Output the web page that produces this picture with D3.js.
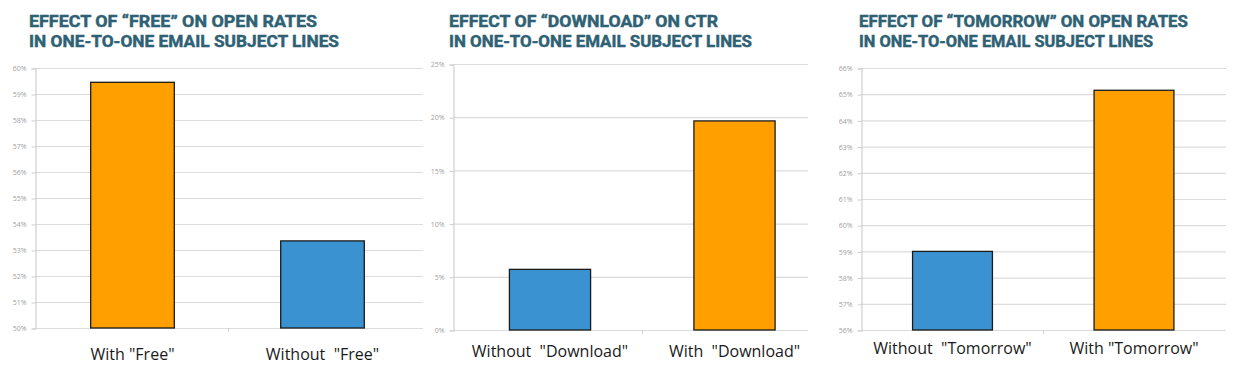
<!DOCTYPE html>
<html>
<head>
<meta charset="utf-8">
<script src="https://cdn.jsdelivr.net/npm/d3@7"></script>
<style>
  html, body { margin: 0; padding: 0; background: #fff; }
  svg { display: block; }
  .title { font-family: "Roboto", "DejaVu Sans", sans-serif; font-weight: 700; fill: #2e6174; stroke: #2e6174; stroke-width: 0.45px; }
  .cat { font-family: "Open Sans", sans-serif; font-size: 16px; fill: #1a1a1a; white-space: pre; }
  .tick text { font-family: "Open Sans", sans-serif; font-size: 7px; fill: #a0a0a0; }
</style>
</head>
<body>
<svg id="chart" width="1237" height="381"></svg>
<script>
// ---------- DATA ----------
const freeTitle = ['EFFECT OF “FREE” ON OPEN RATES', 'IN ONE-TO-ONE EMAIL SUBJECT LINES'];
const freeCategories = ['With "Free"', 'Without  "Free"'];
const freeValues = [59.45, 53.35];
const freeTicks = [50, 51, 52, 53, 54, 55, 56, 57, 58, 59, 60];

const downloadTitle = ['EFFECT OF “DOWNLOAD” ON CTR', 'IN ONE-TO-ONE EMAIL SUBJECT LINES'];
const downloadCategories = ['Without  "Download"', 'With  "Download"'];
const downloadValues = [5.7, 19.65];
const downloadTicks = [0, 5, 10, 15, 20, 25];

const tomorrowTitle = ['EFFECT OF “TOMORROW” ON OPEN RATES', 'IN ONE-TO-ONE EMAIL SUBJECT LINES'];
const tomorrowCategories = ['Without  "Tomorrow"', 'With "Tomorrow"'];
const tomorrowValues = [59.0, 65.15];
const tomorrowTicks = [56, 57, 58, 59, 60, 61, 62, 63, 64, 65, 66];

// ---------- STYLE / LAYOUT ----------
const COLOR_WITH = '#FFA000';
const COLOR_WITHOUT = '#3B92D1';
const GRID = '#dcdcdc';
const AXIS = '#cfcfcf';

const panels = [
  { title: freeTitle, cats: freeCategories, vals: freeValues, ticks: freeTicks, titleW: [288, 310],
    titleX: 29, axisX: 35, gridEnd: 423, top: 68, bottom: 328, xr: [37.5, 417.5], labelY: 360 },
  { title: downloadTitle, cats: downloadCategories, vals: downloadValues, ticks: downloadTicks, titleW: [269, 303],
    titleX: 449, axisX: 453, gridEnd: 808, top: 64, bottom: 330, xr: [457.75, 826.75], labelY: 357 },
  { title: tomorrowTitle, cats: tomorrowCategories, vals: tomorrowValues, ticks: tomorrowTicks, titleW: [329, 294],
    titleX: 859, axisX: 861, gridEnd: 1226, top: 68, bottom: 330, xr: [861.75, 1224.75], labelY: 354 }
];

const svg = d3.select('#chart');

panels.forEach(p => {
  const g = svg.append('g');

  // title
  [0, 1].forEach(i => {
    g.append('text').attr('class', 'title')
      .attr('font-size', 16.5)
      .attr('x', p.titleX).attr('y', i === 0 ? 27 : 47)
      .attr('textLength', p.titleW[i])
      .attr('lengthAdjust', 'spacingAndGlyphs')
      .text(p.title[i]);
  });

  const y = d3.scaleLinear()
    .domain([p.ticks[0], p.ticks[p.ticks.length - 1]])
    .range([p.bottom, p.top]);

  const x = d3.scaleBand()
    .domain(p.cats)
    .range(p.xr)
    .paddingInner(0.56)
    .paddingOuter(0.28);

  // gridlines
  g.append('g')
    .selectAll('line')
    .data(p.ticks)
    .join('line')
    .attr('x1', p.axisX).attr('x2', p.gridEnd)
    .attr('y1', d => y(d) + 0.5).attr('y2', d => y(d) + 0.5)
    .attr('stroke', GRID).attr('stroke-width', 1.2);

  // y axis
  const yAxis = d3.axisLeft(y)
    .tickValues(p.ticks)
    .tickFormat(d => d + '%')
    .tickSize(4)
    .tickPadding(5);
  const ya = g.append('g')
    .attr('transform', `translate(${p.axisX + 0.5},0.5)`)
    .call(yAxis);
  ya.select('.domain').attr('stroke', AXIS).attr('stroke-width', 1.2);
  ya.selectAll('.tick line').attr('stroke', AXIS);

  // category separator tick on baseline
  const centers = p.cats.map(c => x(c) + x.bandwidth() / 2);
  const sep = (centers[0] + centers[1]) / 2;
  g.append('line')
    .attr('x1', Math.round(sep) + 0.5).attr('x2', Math.round(sep) + 0.5)
    .attr('y1', p.bottom).attr('y2', p.bottom + 4)
    .attr('stroke', AXIS);

  // bars
  g.append('g')
    .selectAll('rect')
    .data(p.cats.map((c, i) => ({ c, v: p.vals[i] })))
    .join('rect')
    .attr('x', d => x(d.c))
    .attr('width', x.bandwidth())
    .attr('y', d => y(d.v))
    .attr('height', d => y(y.domain()[0]) - y(d.v))
    .attr('fill', d => d.c.startsWith('Without') ? COLOR_WITHOUT : COLOR_WITH)
    .attr('stroke', '#1b1b1b')
    .attr('stroke-width', 1.3);

  // category labels
  g.append('g')
    .selectAll('text')
    .data(p.cats)
    .join('text')
    .attr('class', 'cat')
    .attr('x', d => x(d) + x.bandwidth() / 2)
    .attr('y', p.labelY)
    .attr('text-anchor', 'middle')
    .text(d => d);
});
</script>
</body>
</html>
